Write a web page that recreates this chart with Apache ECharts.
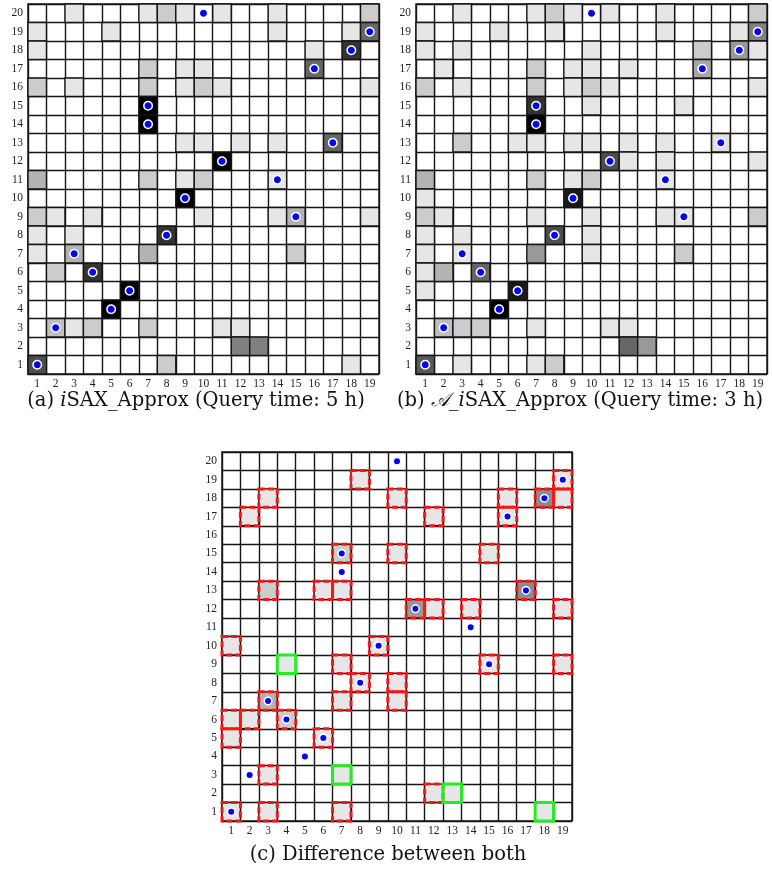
<!DOCTYPE html>
<html><head><meta charset="utf-8">
<script src="https://cdn.jsdelivr.net/npm/echarts@6/dist/echarts.min.js"></script>
<style>html,body{margin:0;padding:0;background:#fff}#c{width:772px;height:871px}</style>
</head><body><div id="c"></div><script>
// Tick labels
const xTicks = ['1','2','3','4','5','6','7','8','9','10','11','12','13','14','15','16','17','18','19'];
const yTicks = ['1','2','3','4','5','6','7','8','9','10','11','12','13','14','15','16','17','18','19','20'];

// Query positions [column, row]
const queries = [[1,1],[2,3],[3,7],[4,6],[5,4],[6,5],[7,14],[7,15],[8,8],[9,10],[10,20],[11,12],[14,11],[15,9],[16,17],[17,13],[18,18],[19,19]];

// (a) iSAX_Approx: [column, row, darkness 0..1]
const cellsA = [
 [3,20,.1],[7,20,.1],[8,20,.2],[9,20,.1],[11,20,.1],[14,20,.1],[19,20,.2],
 [1,19,.1],[5,19,.1],[14,19,.1],[18,19,.1],[19,19,.6],
 [1,18,.1],[16,18,.1],[18,18,.8],
 [7,17,.2],[9,17,.1],[10,17,.1],[16,17,.6],
 [1,16,.2],[3,16,.1],[7,16,.2],[9,16,.1],[10,16,.2],[11,16,.1],[19,16,.1],
 [7,15,1],
 [7,14,1],
 [9,13,.1],[10,13,.1],[12,13,.1],[14,13,.1],[17,13,.6],
 [11,12,1],
 [1,11,.3],[7,11,.2],[9,11,.1],[10,11,.2],[14,11,.1],
 [9,10,1],
 [1,9,.2],[2,9,.1],[4,9,.1],[10,9,.1],[14,9,.1],[15,9,.3],[19,9,.1],
 [1,8,.1],[3,8,.1],[8,8,.8],
 [1,7,.1],[3,7,.3],[7,7,.3],[15,7,.2],
 [2,6,.2],[4,6,.8],
 [6,5,1],
 [5,4,1],
 [2,3,.25],[3,3,.1],[4,3,.2],[7,3,.2],[11,3,.1],[12,3,.1],
 [12,2,.5],[13,2,.5],
 [1,1,.7],[8,1,.2],[18,1,.1]
];

// (b) A_iSAX_Approx
const cellsB = [
 [3,20,.1],[7,20,.1],[8,20,.2],[9,20,.1],[11,20,.1],[14,20,.1],[19,20,.2],
 [1,19,.1],[5,19,.1],[8,19,.1],[14,19,.1],[18,19,.1],[19,19,.5],
 [1,18,.1],[3,18,.1],[10,18,.1],[16,18,.2],[18,18,.4],[19,18,.1],
 [2,17,.1],[7,17,.2],[9,17,.1],[10,17,.1],[12,17,.1],[16,17,.35],
 [1,16,.2],[3,16,.1],[7,16,.2],[9,16,.1],[10,16,.2],[11,16,.1],[19,16,.1],
 [7,15,.8],[10,15,.1],[15,15,.1],
 [7,14,1],
 [3,13,.2],[6,13,.1],[7,13,.1],[9,13,.1],[10,13,.1],[12,13,.1],[14,13,.1],[17,13,.12],
 [11,12,.7],[12,12,.1],[14,12,.1],[19,12,.1],
 [1,11,.3],[7,11,.2],[9,11,.1],[10,11,.2],[14,11,.1],
 [1,10,.1],[9,10,.9],
 [1,9,.2],[2,9,.1],[7,9,.1],[10,9,.1],[14,9,.1],[15,9,.1],[19,9,.2],
 [1,8,.1],[3,8,.1],[8,8,.7],[10,8,.1],
 [1,7,.1],[3,7,.1],[7,7,.4],[10,7,.1],[15,7,.2],
 [1,6,.1],[2,6,.3],[4,6,.6],
 [1,5,.1],[6,5,.9],
 [5,4,1],
 [2,3,.25],[3,3,.2],[4,3,.2],[7,3,.1],[11,3,.1],[12,3,.1],
 [12,2,.6],[13,2,.4],
 [1,1,.65],[3,1,.1],[7,1,.1],[8,1,.2]
];

// (c) Difference: changed cells [column, row, shade]
const cellsDiff = [
 [8,19,.1],[19,19,.1],
 [3,18,.1],[10,18,.1],[16,18,.1],[18,18,.45],[19,18,.1],
 [2,17,.1],[12,17,.1],[16,17,.1],
 [7,15,.2],[10,15,.1],[15,15,.1],
 [3,13,.2],[6,13,.1],[7,13,.1],[17,13,.45],
 [11,12,.4],[12,12,.1],[14,12,.1],[19,12,.1],
 [1,10,.1],[9,10,.1],
 [4,9,.1],[7,9,.1],[15,9,.1],[19,9,.1],
 [8,8,.1],[10,8,.1],
 [3,7,.3],[7,7,.1],[10,7,.1],
 [1,6,.1],[2,6,.1],[4,6,.2],
 [1,5,.1],[6,5,.1],
 [3,3,.1],[7,3,.1],
 [12,2,.1],[13,2,.1],
 [1,1,.1],[3,1,.1],[7,1,.1],[18,1,.1]
];
// boxes: green = decreased, red dashed = others
const greenBoxes = [[4,9],[7,3],[13,2],[18,1]];
const redBoxes = cellsDiff.filter(c => !greenBoxes.some(g => g[0]===c[0] && g[1]===c[1])).map(c => [c[0], c[1]]);

const SERIF = '"Liberation Serif", "DejaVu Serif", serif';
const CAP = '"DejaVu Serif", serif';
const LINE = '#151515';

const toIdx = arr => arr.map(d => [d[0]-1, d[1]-1].concat(d.slice(2)));

function renderCell(params, api) {
  const c = api.coord([api.value(0), api.value(1)]);
  const s = api.size([1, 1]);
  const g = Math.round(255 * (1 - api.value(2)));
  return {type: 'rect', shape: {x: c[0]-s[0]/2, y: c[1]-s[1]/2, width: s[0], height: s[1]},
    style: {fill: 'rgb('+g+','+g+','+g+')', stroke: LINE, lineWidth: 1.4}};
}
function boxRenderer(color, dashed) {
  return function (params, api) {
    const c = api.coord([api.value(0), api.value(1)]);
    const s = api.size([1, 1]);
    return {type: 'rect', shape: {x: c[0]-s[0]/2, y: c[1]-s[1]/2, width: s[0], height: s[1]},
      style: {fill: 'none', stroke: color, lineWidth: 3, lineDash: dashed ? [6, 3] : null}};
  };
}

const grids = [
  {left: 28, top: 4, width: 351, height: 370},
  {left: 416, top: 4, width: 351, height: 370},
  {left: 222, top: 452, width: 350, height: 369}
].map(g => Object.assign({show: true, borderColor: LINE, borderWidth: 1.4, backgroundColor: '#fff'}, g));

const xAxes = [0,1,2].map(i => ({
  type: 'category', gridIndex: i, data: xTicks,
  axisLine: {show: false}, axisTick: {show: false},
  splitLine: {show: true, lineStyle: {color: LINE, width: 1.4}},
  axisLabel: {fontFamily: SERIF, fontSize: 11.5, color: '#222', margin: 4, interval: 0}
}));
const yAxes = [0,1,2].map(i => ({
  type: 'category', gridIndex: i, data: yTicks,
  axisLine: {show: false}, axisTick: {show: false},
  splitLine: {show: true, lineStyle: {color: LINE, width: 1.4}},
  axisLabel: {fontFamily: SERIF, fontSize: 11.5, color: '#222', margin: 5, interval: 0}
}));

const series = [];
[cellsA, cellsB, cellsDiff].forEach((cells, i) => {
  series.push({type: 'custom', xAxisIndex: i, yAxisIndex: i, data: toIdx(cells), renderItem: renderCell, z: 2, silent: true});
});
series.push({type: 'custom', xAxisIndex: 2, yAxisIndex: 2, data: toIdx(redBoxes), renderItem: boxRenderer('#ff1414', true), z: 3, silent: true});
series.push({type: 'custom', xAxisIndex: 2, yAxisIndex: 2, data: toIdx(greenBoxes), renderItem: boxRenderer('#22ee22', false), z: 3, silent: true});
[0,1,2].forEach(i => {
  series.push({type: 'scatter', xAxisIndex: i, yAxisIndex: i, data: toIdx(queries),
    symbolSize: i < 2 ? 8.5 : 7.5, z: 5, silent: true,
    itemStyle: {color: '#0000ff', borderColor: '#ffffff', borderWidth: 1.5, opacity: 1}});
});

function caption(x, y, text) {
  const fs = 19.5;
  return {type: 'text', x: x, y: y, silent: true,
    style: {text: text, align: 'center', verticalAlign: 'middle',
      rich: {
        n: {fontFamily: CAP, fontSize: fs, fill: '#111'},
        i: {fontFamily: CAP, fontSize: fs, fill: '#111', fontStyle: 'italic'},
        c: {fontFamily: '"DejaVu Sans", "DejaVu Serif", serif', fontSize: fs, fill: '#111', fontStyle: 'italic'}
      }}};
}

const chart = echarts.init(document.getElementById('c'), null, {renderer: 'canvas'});
chart.setOption({
  animation: false,
  backgroundColor: '#fff',
  grid: grids,
  xAxis: xAxes,
  yAxis: yAxes,
  series: series,
  graphic: [
    caption(196, 401, '{n|(a) }{i|i}{n|SAX_Approx (Query time: 5 h)}'),
    caption(580, 401, '{n|(b) }{c|𝒜}{n|_}{i|i}{n|SAX_Approx (Query time: 3 h)}'),
    caption(388, 855, '{n|(c) Difference between both}')
  ]
});
</script></body></html>
